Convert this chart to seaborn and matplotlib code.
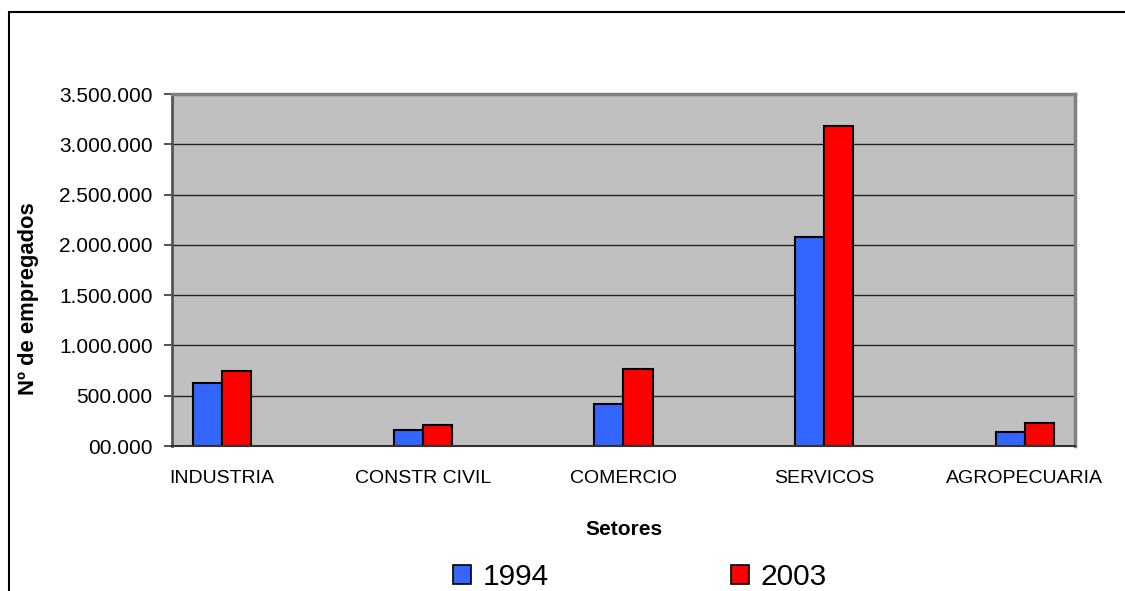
import numpy as np
import pandas as pd
import matplotlib
matplotlib.use('Agg')
import matplotlib.pyplot as plt
import matplotlib.ticker as mticker
from matplotlib.patches import Rectangle
import seaborn as sns


# Dados: empregados por setor

setores = ['INDUSTRIA', 'CONSTR CIVIL', 'COMERCIO', 'SERVICOS', 'AGROPECUARIA']
anos = ['1994', '2003']
emp_1994 = [622000, 163000, 422000, 2077000, 140000]
emp_2003 = [741000, 207000, 762000, 3180000, 227000]
y_ticks = [0, 500000, 1000000, 1500000, 2000000, 2500000, 3000000, 3500000]

# categorias vazias entre os setores (como no grafico original)
ordem = []
for i, s in enumerate(setores):
    ordem.append(s)
    if i < len(setores) - 1:
        ordem.append(' ' * (i + 1))

df = pd.DataFrame({
    'setor': setores * 2,
    'ano': [anos[0]] * len(setores) + [anos[1]] * len(setores),
    'empregados': emp_1994 + emp_2003,
})

sns.set_style('white')
plt.rcParams['font.family'] = ['Liberation Sans', 'DejaVu Sans']
plt.rcParams['text.color'] = 'black'
plt.rcParams['axes.labelcolor'] = 'black'
plt.rcParams['xtick.labelcolor'] = 'black'
plt.rcParams['ytick.labelcolor'] = 'black'

fig, ax = plt.subplots(figsize=(11.25, 5.91), dpi=100)
fig.subplots_adjust(left=172/1125, right=1075/1125, top=1-94/591, bottom=1-446/591)

sns.barplot(data=df, x='setor', y='empregados', hue='ano', order=ordem,
            hue_order=anos, palette=['#3366FF', '#FF0000'], width=0.58,
            edgecolor='black', linewidth=1.5, saturation=1, ax=ax)

ax.set_facecolor('#C0C0C0')
ax.set_xlim(-0.5, len(ordem) - 0.5)
ax.set_ylim(0, 3500000)
ax.set_yticks(y_ticks)
ax.yaxis.set_major_formatter(mticker.FuncFormatter(
    lambda v, p: '00.000' if v == 0 else f'{v:,.0f}'.replace(',', '.')))
ax.yaxis.grid(True, color='#222222', linewidth=1)
ax.set_axisbelow(True)

ax.set_xticks(range(len(ordem)))
ax.set_xticklabels(ordem)
ax.set_xticks(np.arange(-0.5, len(ordem), 1), minor=True)
ax.tick_params(axis='x', which='major', length=0, pad=17, labelsize=14, labelcolor='black')
ax.tick_params(axis='x', which='minor', length=6, width=1.2, color='#333333', direction='out')
ax.tick_params(axis='y', length=6, width=1.2, color='#333333', direction='out', pad=8,
               labelsize=15, left=True, labelcolor='black')

for lado in ['top', 'right']:
    ax.spines[lado].set_color('#808080')
    ax.spines[lado].set_linewidth(2.5)
ax.spines['left'].set_color('#555555')
ax.spines['left'].set_linewidth(2)
ax.spines['bottom'].set_color('#333333')
ax.spines['bottom'].set_linewidth(1.5)

ax.set_xlabel('Setores', fontsize=15, fontweight='bold', labelpad=24, color='black')
ax.set_ylabel('Nº de empregados', fontsize=15.8, fontweight='bold', color='black')
ax.yaxis.set_label_coords(-0.147, 0.42)

leg = ax.legend(loc='lower left', bbox_to_anchor=(453/1125, 0.0), bbox_transform=fig.transFigure,
                ncol=2, frameon=False, fontsize=21.5, handlelength=0.6, handleheight=0.6,
                handletextpad=0.4, columnspacing=6.1, borderpad=0, borderaxespad=0)
for h in leg.legend_handles:
    h.set_edgecolor('black')
    h.set_linewidth(1.2)
for t in leg.get_texts():
    t.set_color('black')

fig.patches.append(Rectangle((9/1125, -0.1), 1.2, 1.1 - 12/591, transform=fig.transFigure,
                             fill=False, edgecolor='black', linewidth=1.5, figure=fig))

plt.savefig('out.png', dpi=100)
